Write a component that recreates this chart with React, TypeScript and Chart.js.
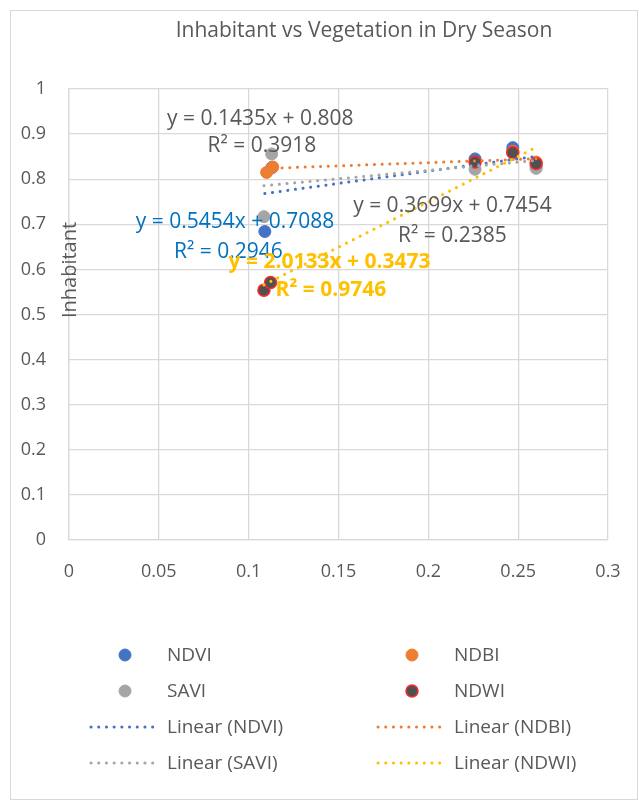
import React, { useEffect, useRef } from 'react';
import { Chart, registerables } from 'chart.js';

Chart.register(...registerables);

const FONT = "'Open Sans', 'Noto Sans', sans-serif";
const TEXT = '#595959';
const GRID = '#D9D9D9';

const chartTitle = 'Inhabitant vs Vegetation in Dry Season';
const yAxisTitle = 'Inhabitant';

const seriesNames = ['NDVI', 'NDBI', 'SAVI', 'NDWI'];

const xNDVI = [0.109, 0.113, 0.226, 0.247, 0.26];
const yNDVI = [0.684, 0.826, 0.845, 0.87, 0.828];
const xNDBI = [0.11, 0.1134, 0.226, 0.247, 0.26];
const yNDBI = [0.815, 0.827, 0.838, 0.862, 0.838];
const xSAVI = [0.1085, 0.1128, 0.226, 0.247, 0.26];
const ySAVI = [0.717, 0.856, 0.822, 0.858, 0.824];
const xNDWI = [0.1085, 0.1122, 0.226, 0.247, 0.26];
const yNDWI = [0.554, 0.571, 0.838, 0.859, 0.835];

const trendSlopes = [0.5454, 0.1435, 0.3699, 2.0133];
const trendIntercepts = [0.7088, 0.808, 0.7454, 0.3473];
const trendRSquared = [0.2946, 0.3918, 0.2385, 0.9746];

const xTickValues = [0, 0.05, 0.1, 0.15, 0.2, 0.25, 0.3];
const yTickValues = [0, 0.1, 0.2, 0.3, 0.4, 0.5, 0.6, 0.7, 0.8, 0.9, 1];

// styles
const markerFill = ['#4472C4', '#ED7D31', '#A5A5A5', '#505050'];
const markerBorder = ['#4472C4', '#ED7D31', '#A5A5A5', '#FF2A2A'];
const trendColors = ['#4472C4', '#ED7D31', '#A5A5A5', '#FFC000'];
const labelColors = ['#0070C0', TEXT, TEXT, '#FFC000'];
const labelBold = [false, false, false, true];
// label anchors in data units: [eqX, eqY, r2X, r2Y]
const labelAnchors = [
  [0.0924, 0.704, 0.0887, 0.638],
  [0.1065, 0.9345, 0.1074, 0.8725],
  [0.2134, 0.7396, 0.2134, 0.673],
  [0.145, 0.6156, 0.1458, 0.5536],
];

const seriesX = [xNDVI, xNDBI, xSAVI, xNDWI];
const seriesY = [yNDVI, yNDBI, ySAVI, yNDWI];

const DOT_DASH = [0.1, 7.6];

const overlay = {
  id: 'overlay',
  afterDraw(chart: any) {
    const ctx: CanvasRenderingContext2D = chart.ctx;
    const xs = chart.scales.x;
    const ys = chart.scales.y;
    ctx.save();
    ctx.textAlign = 'center';
    ctx.textBaseline = 'middle';

    // title
    ctx.fillStyle = TEXT;
    ctx.font = `21px ${FONT}`;
    ctx.fillText(chartTitle, 364, 31);

    // y-axis title
    ctx.save();
    ctx.translate(70, 270);
    ctx.rotate(-Math.PI / 2);
    ctx.font = `20px ${FONT}`;
    ctx.fillText(yAxisTitle, 0, 0);
    ctx.restore();

    // trendline labels
    for (let i = 0; i < 4; i++) {
      const a = labelAnchors[i];
      ctx.fillStyle = labelColors[i];
      ctx.font = `${labelBold[i] ? 'bold ' : ''}21px ${FONT}`;
      ctx.fillText(
        `y = ${trendSlopes[i]}x + ${trendIntercepts[i]}`,
        xs.getPixelForValue(a[0]),
        ys.getPixelForValue(a[1])
      );
      ctx.fillText(
        `R² = ${trendRSquared[i]}`,
        xs.getPixelForValue(a[2]),
        ys.getPixelForValue(a[3])
      );
    }

    // legend
    const ds = chart.data.datasets;
    ctx.textAlign = 'left';
    ctx.font = `19px ${FONT}`;
    for (let i = 0; i < ds.length; i++) {
      const col = i % 2;
      const row = Math.floor(i / 2);
      const cx = 125 + col * 287;
      const cy = 655 + row * 36;
      const d: any = ds[i];
      if (d.showLine) {
        ctx.save();
        ctx.strokeStyle = d.borderColor;
        ctx.lineWidth = d.borderWidth;
        ctx.lineCap = 'round';
        ctx.setLineDash(DOT_DASH);
        ctx.beginPath();
        ctx.moveTo(cx - 34, cy);
        ctx.lineTo(cx + 35, cy);
        ctx.stroke();
        ctx.restore();
      } else {
        ctx.beginPath();
        ctx.arc(cx, cy, 6, 0, Math.PI * 2);
        ctx.fillStyle = d.backgroundColor;
        ctx.fill();
        ctx.lineWidth = d.borderWidth;
        ctx.strokeStyle = d.borderColor;
        ctx.stroke();
      }
      ctx.fillStyle = TEXT;
      ctx.fillText(d.label, cx + 42, cy + 1);
    }
    ctx.restore();
  },
};

export default function App() {
  const ref = useRef<HTMLCanvasElement>(null);

  useEffect(() => {
    if (!ref.current) return;
    const scatterSets = seriesNames.map((name, i) => ({
      label: name,
      data: seriesX[i].map((x, k) => ({ x, y: seriesY[i][k] })),
      backgroundColor: markerFill[i],
      borderColor: markerBorder[i],
      borderWidth: i === 3 ? 1.5 : 1,
      pointRadius: 6,
      pointHoverRadius: 6,
      showLine: false,
      order: 10 - i,
    }));
    const trendSets = seriesNames.map((name, i) => {
      const xmin = Math.min(...seriesX[i]);
      const xmax = Math.max(...seriesX[i]);
      return {
        label: `Linear (${name})`,
        data: [
          { x: xmin, y: trendSlopes[i] * xmin + trendIntercepts[i] },
          { x: xmax, y: trendSlopes[i] * xmax + trendIntercepts[i] },
        ],
        borderColor: trendColors[i],
        backgroundColor: trendColors[i],
        borderWidth: 3,
        borderDash: DOT_DASH,
        borderCapStyle: 'round' as const,
        pointRadius: 0,
        showLine: true,
        order: 4 - i,
      };
    });
    const chart = new Chart(ref.current, {
      type: 'scatter',
      data: { datasets: [...scatterSets, ...trendSets] as any },
      options: {
        animation: false,
        responsive: false,
        devicePixelRatio: 1,
        layout: { padding: { top: 89, right: 31, left: 0, bottom: 0 } },
        plugins: {
          legend: { display: false },
          title: { display: false },
          tooltip: { enabled: false },
        },
        scales: {
          x: {
            type: 'linear',
            min: 0,
            max: 0.3,
            afterFit: (s: any) => {
              s.height = 263;
              s.paddingLeft = 0;
              s.paddingRight = 0;
            },
            afterBuildTicks: (s: any) => {
              s.ticks = xTickValues.map((v) => ({ value: v }));
            },
            ticks: {
              padding: 21,
              color: TEXT,
              font: { family: FONT, size: 18 },
              callback: (v: any) => String(+Number(v).toFixed(2)),
            },
            grid: { color: GRID, lineWidth: 1.3, drawTicks: false },
            border: { color: GRID, width: 1.3 },
          },
          y: {
            type: 'linear',
            min: 0,
            max: 1,
            afterFit: (s: any) => {
              s.width = 69;
              s.paddingTop = 0;
              s.paddingBottom = 0;
            },
            afterBuildTicks: (s: any) => {
              s.ticks = yTickValues.map((v) => ({ value: v }));
            },
            ticks: {
              padding: 23,
              color: TEXT,
              font: { family: FONT, size: 18 },
              callback: (v: any) => String(+Number(v).toFixed(1)),
            },
            grid: { color: GRID, lineWidth: 1.3, drawTicks: false },
            border: { color: GRID, width: 1.3 },
          },
        },
      },
      plugins: [overlay],
    });
    return () => chart.destroy();
  }, []);

  return (
    <div style={{ position: 'absolute', left: 0, top: 0, width: 639, height: 803, background: '#fff' }}>
      <div
        style={{
          position: 'absolute',
          left: 10,
          top: 10,
          width: 628,
          height: 790,
          boxSizing: 'border-box',
          border: `1px solid ${GRID}`,
        }}
      />
      <canvas
        ref={ref}
        width={639}
        height={803}
        style={{ position: 'absolute', left: 0, top: 0, width: 639, height: 803 }}
      />
    </div>
  );
}
